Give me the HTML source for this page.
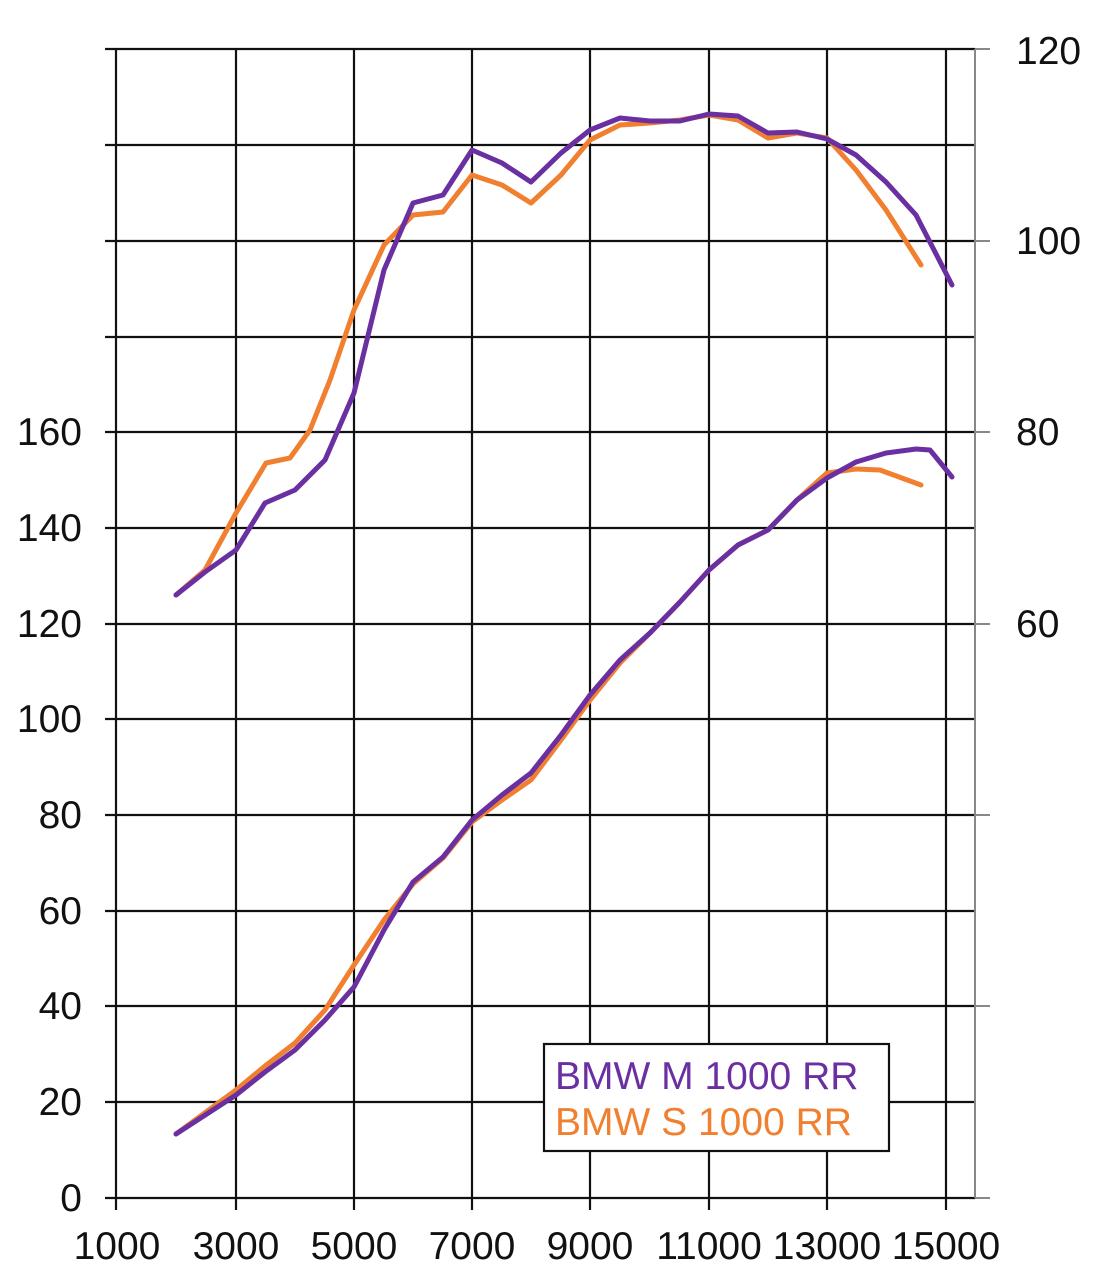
<!DOCTYPE html>
<html><head><meta charset="utf-8"><style>
html,body{margin:0;padding:0;background:#fff;}
svg{display:block;}
text{font-family:"Liberation Sans",Arial,sans-serif;font-size:39px;fill:#111;}
</style></head><body>
<svg width="1111" height="1280" viewBox="0 0 1111 1280" xmlns="http://www.w3.org/2000/svg">
<g stroke="#111" stroke-width="2.2" fill="none">
<line x1="105" y1="49" x2="975" y2="49"/>
<line x1="105" y1="145" x2="975" y2="145"/>
<line x1="105" y1="241" x2="975" y2="241"/>
<line x1="105" y1="337" x2="975" y2="337"/>
<line x1="105" y1="432" x2="975" y2="432"/>
<line x1="105" y1="528" x2="975" y2="528"/>
<line x1="105" y1="624" x2="975" y2="624"/>
<line x1="105" y1="719" x2="975" y2="719"/>
<line x1="105" y1="815" x2="975" y2="815"/>
<line x1="105" y1="911" x2="975" y2="911"/>
<line x1="105" y1="1006" x2="975" y2="1006"/>
<line x1="105" y1="1102" x2="975" y2="1102"/>
<line x1="105" y1="1198" x2="975" y2="1198"/>
<line x1="116" y1="49" x2="116" y2="1210"/>
<line x1="236" y1="49" x2="236" y2="1210"/>
<line x1="354" y1="49" x2="354" y2="1210"/>
<line x1="472" y1="49" x2="472" y2="1210"/>
<line x1="590" y1="49" x2="590" y2="1210"/>
<line x1="709" y1="49" x2="709" y2="1210"/>
<line x1="827" y1="49" x2="827" y2="1210"/>
<line x1="946" y1="49" x2="946" y2="1210"/>
</g>
<g stroke="#888" stroke-width="2" fill="none">
<line x1="975" y1="49" x2="975" y2="1198"/>
<line x1="975" y1="49" x2="990" y2="49"/>
<line x1="975" y1="241" x2="990" y2="241"/>
<line x1="975" y1="432" x2="990" y2="432"/>
<line x1="975" y1="624" x2="990" y2="624"/>
<line x1="975" y1="815" x2="990" y2="815"/>
<line x1="975" y1="1006" x2="990" y2="1006"/>
<line x1="975" y1="1198" x2="990" y2="1198"/>
</g>
<g stroke-width="5" fill="none" stroke-linejoin="round" stroke-linecap="round">
<polyline stroke="#f08030" points="176,595 205,570 236,513 266,463 290,458 310,430 330,380 354,310 384,245 413,215 443,212 472,175 502,185 531,203 561,175 590,140 620,125 650,123 680,120 709,115 738,120 768,138 797,133 827,138 856,170 886,210 921,265"/>
<polyline stroke="#6a2fa0" points="176,595 205,572 236,550 265,503 295,490 325,460 354,393 384,270 413,203 443,195 472,150 502,163 531,182 561,153 590,130 620,118 650,121 680,121 709,114 738,116 768,133 797,132 827,139 856,155 886,182 916,215 952,285"/>
<polyline stroke="#f08030" points="176,1134 236,1090 265,1066 295,1043 325,1010 354,965 384,920 413,884 443,858 472,822 502,800 531,780 561,740 590,700 620,663 650,633 680,602 709,570 738,545 768,530 797,500 827,473 856,469 880,470 921,485"/>
<polyline stroke="#6a2fa0" points="176,1134 236,1095 265,1072 295,1050 325,1020 354,987 384,930 413,882 443,857 472,820 502,795 531,773 561,735 590,695 620,660 650,633 680,602 709,570 738,545 768,530 797,500 827,478 856,462 886,453 916,449 930,450 952,477"/>
</g>
<g text-anchor="end">
<text x="82" y="1211">0</text>
<text x="82" y="1115">20</text>
<text x="82" y="1019">40</text>
<text x="82" y="924">60</text>
<text x="82" y="828">80</text>
<text x="82" y="732">100</text>
<text x="82" y="637">120</text>
<text x="82" y="541">140</text>
<text x="82" y="445">160</text>
</g>
<g>
<text x="1016" y="64">120</text>
<text x="1016" y="254">100</text>
<text x="1016" y="445">80</text>
<text x="1016" y="637">60</text>
</g>
<g text-anchor="middle">
<text x="117" y="1259">1000</text>
<text x="236" y="1259">3000</text>
<text x="354" y="1259">5000</text>
<text x="472" y="1259">7000</text>
<text x="590" y="1259">9000</text>
<text x="709" y="1259">11000</text>
<text x="827" y="1259">13000</text>
<text x="946" y="1259">15000</text>
</g>
<rect x="544" y="1044" width="345" height="107" fill="#fff" stroke="#111" stroke-width="2.2"/>
<text x="555" y="1089" style="fill:#6a2fa0">BMW M 1000 RR</text>
<text x="555" y="1135" style="fill:#f08030">BMW S 1000 RR</text>
</svg>
</body></html>
